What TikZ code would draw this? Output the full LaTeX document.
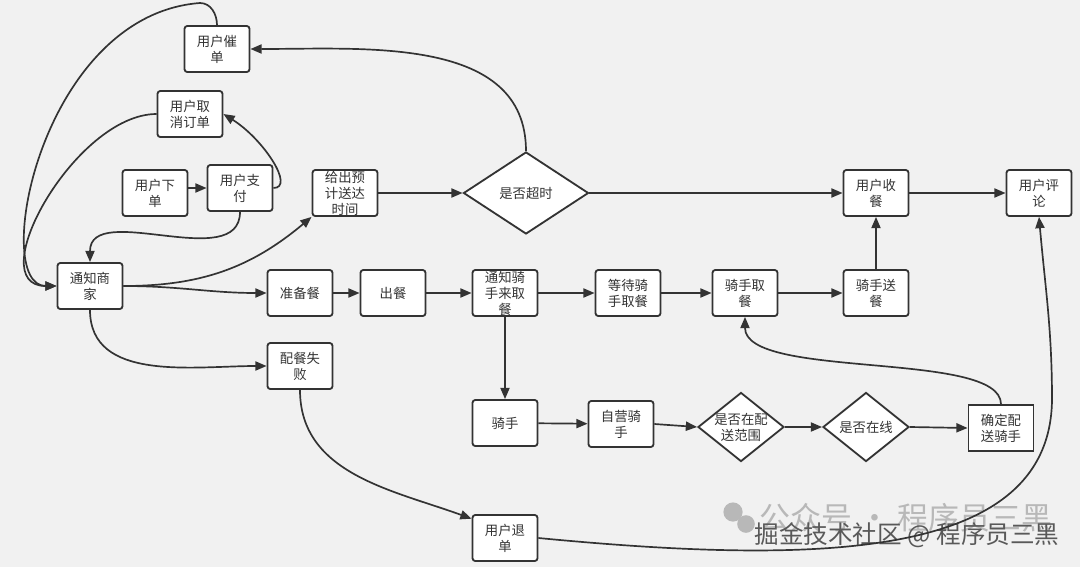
\documentclass[tikz,border=0pt]{standalone}
\usepackage{fontspec}
\setmainfont{Noto Sans CJK SC}
\usepackage{tikz}
\usetikzlibrary{arrows.meta, shapes.geometric}
\definecolor{bgcol}{HTML}{F1F1F1}
\definecolor{ink}{HTML}{333333}
\definecolor{wmgray}{HTML}{B8B8B8}

\begin{document}
\begin{tikzpicture}[x=0.025cm, y=0.025cm,
        boxnode/.style={rectangle, rounded corners=2pt, draw=ink, fill=white, line width=1.3pt, minimum width=1.625cm, minimum height=1.15cm, inner sep=0pt, align=center, text=ink},
        decnode/.style={diamond, draw=ink, fill=white, line width=1.3pt, inner sep=-5pt, align=center, text=ink},
        ->, >={Triangle[length=8pt,width=6.5pt]}, line width=1.2pt, color=ink]
        \tikzstyle{every node}=[font=\fontsize{9.5}{11.4}\selectfont]
            \useasboundingbox[fill=bgcol] (0,0) rectangle (1080,-567);

            % user side
            \node[boxnode] (cd) at (217,-49) {用户催\\单};
            \node[boxnode] (qx) at (190,-114) {用户取\\消订单};
            \node[boxnode] (xd) at (155,-193) {用户下\\单};
            \node[boxnode] (zf) at (240,-188) {用户支\\付};
            \node[boxnode] (tz) at (90,-286) {通知商\\家};
            \node[boxnode] (yj) at (345,-193) {给出预\\计送达\\时间};
            \node[decnode, minimum width=3.125cm, minimum height=2.05cm] (cs) at (526,-193) {是否超时};
            \node[boxnode] (sc) at (876,-193) {用户收\\餐};
            \node[boxnode] (pl) at (1039,-193) {用户评\\论};

            % kitchen and rider
            \node[boxnode] (zb) at (300,-293) {准备餐};
            \node[boxnode] (cc) at (393,-293) {出餐};
            \node[boxnode] (tq) at (505,-293) {通知骑\\手来取\\餐};
            \node[boxnode] (dd) at (628,-293) {等待骑\\手取餐};
            \node[boxnode] (qc) at (745,-293) {骑手取\\餐};
            \node[boxnode] (qs) at (876,-293) {骑手送\\餐};
            \node[boxnode] (pc) at (300,-366) {配餐失\\败};
            \node[boxnode] (rd) at (505,-423) {骑手};
            \node[boxnode] (zy) at (621,-424) {自营骑\\手};
            \node[decnode, minimum width=2.15cm, minimum height=1.725cm] (fw) at (741,-427) {是否在配\\送范围};
            \node[decnode, minimum width=2.15cm, minimum height=1.725cm] (zx) at (866,-427) {是否在线};
            \node[boxnode, sharp corners] (qd) at (1001,-428) {确定配\\送骑手};
            \node[boxnode] (td) at (505,-538) {用户退\\单};

            % watermark
            \fill[wmgray] (733,-512) circle (0.24cm);
            \fill[wmgray] (746,-524) circle (0.22cm);
            \node[font=\fontsize{22}{22}\selectfont, text=wmgray] (wma) at (906,-518) {公众号 · 程序员三黑};
            \node[font=\fontsize{17.5}{17.5}\selectfont, text=black!65] (wmb) at (907,-535) {掘金技术社区 @ 程序员三黑};

            \draw (xd.east|-zf) -- (zf);
            \draw (zf.east) .. controls +(22,0) and +(40,-25) .. (qx.east);
            \draw (zf.south) to[out=-90,in=90] (tz.north);
            \draw (qx.west) .. controls (75,-114) and (-20,-286) .. (tz.west);
            \draw (cd.north) to[out=90,in=0] (200,-3) .. controls (40,-15) and (-10,-286) .. (tz.west);
            \draw (cs.north) to[out=90,in=0] (cd.east);
            \draw (tz.east) to[out=0,in=-140] (yj.south west);
            \draw (tz.east) to[out=0,in=180] (zb.west);
            \draw (tz.south) to[out=-90,in=180] (pc.west);
            \draw (yj) -- (cs);
            \draw (cs) -- (sc);
            \draw (sc) -- (pl);
            \draw (zb) -- (cc);
            \draw (cc) -- (tq);
            \draw (tq) -- (dd);
            \draw (dd) -- (qc);
            \draw (qc) -- (qs);
            \draw (qs) -- (sc);
            \draw (tq) -- (rd);
            \draw (rd) -- (zy);
            \draw (zy.east) -- (fw.west);
            \draw (fw) -- (zx);
            \draw (zx.east) -- (qd.west);
            \draw (qd.north) .. controls (1001,-350) and (745,-380) .. (qc.south);
            \draw (pc.south) to[out=-90,in=160] (td.150);
            \draw (td.east) .. controls (820,-565) and (1050,-560) .. (1052,-400) to[out=90,in=-85] (pl.south);
        \end{tikzpicture}
\end{document}
